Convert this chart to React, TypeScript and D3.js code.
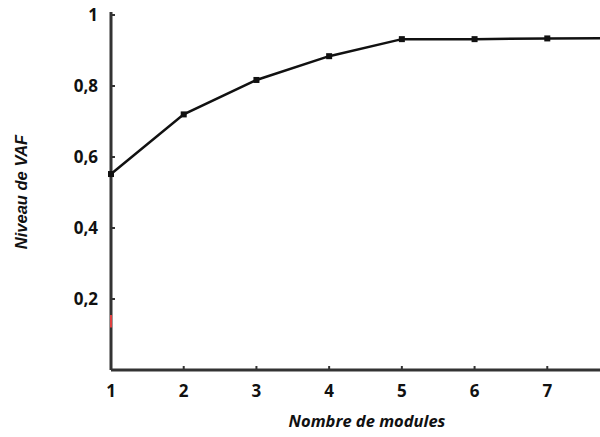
import React from "react";
import * as d3 from "d3";

const modules = [1, 2, 3, 4, 5, 6, 7, 8];
const vaf = [0.552, 0.72, 0.817, 0.884, 0.932, 0.932, 0.934, 0.935];
const xTicks = [1, 2, 3, 4, 5, 6, 7];
const yTicks = [0.2, 0.4, 0.6, 0.8, 1];
const yTickLabels = ["0,2", "0,4", "0,6", "0,8", "1"];

export default function App() {
  const W = 600, H = 437;
  const x = d3.scaleLinear().domain([1, 8]).range([111, 620]);
  const y = d3.scaleLinear().domain([0, 1]).range([370, 15]);
  const line = d3.line<number>().x((_, i) => x(modules[i])).y((d) => y(d));
  const font = "'Open Sans', 'Liberation Sans', sans-serif";
  return (
    <svg width={W} height={H} style={{ position: "absolute", left: 0, top: 0, background: "#fff" }}>
      <rect width={W} height={H} fill="#fff" />
      {/* axes */}
      <line x1={x(1)} y1={12} x2={x(1)} y2={y(0)} stroke="#333" strokeWidth={3} />
      <line x1={x(1)} y1={y(0)} x2={W} y2={y(0)} stroke="#333" strokeWidth={3} />
      <line x1={x(1)} y1={y(0.155)} x2={x(1)} y2={y(0.12)} stroke="#e04040" strokeWidth={2} />
      {yTicks.map((t, i) => (
        <g key={"y" + i}>
          <line x1={x(1)} x2={x(1) + 4} y1={y(t)} y2={y(t)} stroke="#333" strokeWidth={2} />
          <text x={98} y={y(t)} dy="0.36em" textAnchor="end" fontFamily={font} fontWeight="bold" fontSize={17} fill="#111">
            {yTickLabels[i]}
          </text>
        </g>
      ))}
      {xTicks.map((t) => (
        <g key={"x" + t}>
          <line x1={x(t)} x2={x(t)} y1={y(0)} y2={y(0) - 4} stroke="#333" strokeWidth={2} />
          <text x={x(t)} y={397} textAnchor="middle" fontFamily={font} fontWeight="bold" fontSize={17} fill="#111">
            {t}
          </text>
        </g>
      ))}
      {/* data */}
      <path d={line(vaf) || ""} fill="none" stroke="#111" strokeWidth={2.5} />
      {vaf.map((v, i) => (
        <rect key={"p" + i} x={x(modules[i]) - 3} y={y(v) - 3} width={6} height={6} fill="#111" />
      ))}
      {/* titles */}
      <text x={367} y={427} textAnchor="middle" fontFamily={font} fontWeight="bold" fontStyle="italic" fontSize={16.5} fill="#111">
        Nombre de modules
      </text>
      <text transform={`translate(27,192) rotate(-90)`} textAnchor="middle" fontFamily="'Liberation Sans', Arial, sans-serif" fontWeight="bold" fontStyle="italic" fontSize={16.5} fill="#111">
        Niveau de VAF
      </text>
    </svg>
  );
}
